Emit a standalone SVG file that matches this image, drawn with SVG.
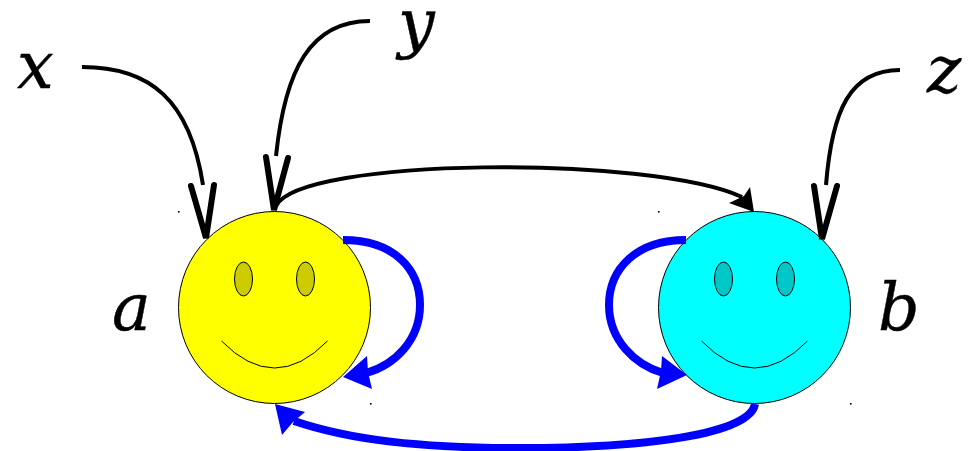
<svg xmlns="http://www.w3.org/2000/svg" width="978" height="451" viewBox="0 0 978 451">
<style>
.face{stroke:#000;stroke-width:1}
.eye{stroke:#000;stroke-width:1}
.smile{fill:none;stroke:#000;stroke-width:1}
.dot{fill:#000}
.lab{font-family:"DejaVu Serif",serif;font-style:italic;font-size:65px;fill:#000;stroke:#000;stroke-width:0.4}
.k{fill:none;stroke:#000;stroke-width:4}
.chev{fill:none;stroke:#000;stroke-width:6;stroke-linecap:round;stroke-linejoin:miter}
.b{fill:none;stroke:#00f;stroke-width:8}
.bh{fill:#00f}
</style>
<g id="node-a">
<circle class="face" cx="274.5" cy="307.500" r="96" fill="#ff0"/>
<ellipse class="eye" cx="243.500" cy="279" rx="9" ry="17" fill="#cc0"/>
<ellipse class="eye" cx="305.500" cy="279" rx="9" ry="17" fill="#cc0"/>
<path class="smile" d="M221.500,341Q274.500,395 327.500,341"/>
<rect class="dot" x="178" y="211" width="1.600" height="1.600"/>
<rect class="dot" x="370" y="403" width="1.600" height="1.600"/>
<text class="lab" x="112" y="330">a</text>
</g>
<g id="node-b">
<circle class="face" cx="754.500" cy="307.500" r="96" fill="#0ff"/>
<ellipse class="eye" cx="723.500" cy="279" rx="9" ry="17" fill="#00c8c8"/>
<ellipse class="eye" cx="785.500" cy="279" rx="9" ry="17" fill="#00c8c8"/>
<path class="smile" d="M701.500,341Q754.500,395 807.500,341"/>
<rect class="dot" x="658" y="211" width="1.600" height="1.600"/>
<rect class="dot" x="850" y="403" width="1.600" height="1.600"/>
<text class="lab" x="878" y="330">b</text>
</g>
<g id="node-x"><text class="lab" x="17" y="88">x</text></g>
<g id="node-y"><text class="lab" x="398" y="45">y</text></g>
<g id="node-z"><text class="lab" x="927" y="92">z</text></g>
<g id="connectors">
<path class="k" d="M82,67C150,67 190,100 203,185"/>
<path class="chev" d="M191,186L206,238L214,185"/>
<path class="k" d="M370,21C310,21 285,70 276,156"/>
<path class="chev" d="M266,157L274,210L288,158"/>
<path class="k" d="M900,70C850,70 832,110 826,185"/>
<path class="chev" d="M814,186L822,239L837,186"/>
<path class="k" d="M276,206C300,157 650,155 742,197"/>
<path d="M754,212L729,203L744,196L750,187Z"/>
<path class="b" d="M343,240C395,240 420,270 420,305C420,340 395,365 366,373"/>
<path class="bh" d="M343,377L367,356L368,372L372,389Z"/>
<path class="b" d="M686,240C635,240 609,270 609,305C609,340 635,365 663,373"/>
<path class="bh" d="M687,375L662,356L661,371L657,389Z"/>
<path class="b" d="M755,404C750,435 640,448 520,448C420,448 350,440 294,421"/>
<path class="bh" d="M275,404L305,412L293,422L282,435Z"/>
</g>
</svg>
